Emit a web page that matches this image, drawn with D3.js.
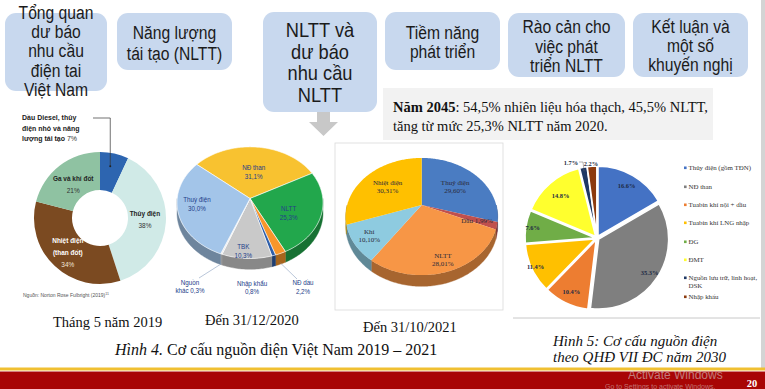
<!DOCTYPE html>
<html><head><meta charset="utf-8">
<script src="https://cdn.jsdelivr.net/npm/d3@7/dist/d3.min.js"></script>
<style>body{margin:0;background:#fff;overflow:hidden}</style>
</head><body>
<svg id="c" width="765" height="389"></svg>
<script>
// ---------------- DATA ----------------
const navTopics = [
  ["Tổng quan","dư báo","nhu cầu","điện tai","Việt Nam"],
  ["Năng lượng","tái tạo (NLTT)"],
  ["NLTT và","dư báo","nhu cầu","NLTT"],
  ["Tiềm năng","phát triển"],
  ["Rào cản cho","việc phát","triển NLTT"],
  ["Kết luận và","một số","khuyến nghị"]
];
const mix2019Labels = [["Dầu Diesel, thủy","điện nhỏ và năng","lượng tái tạo"],["Thủy điện"],["Nhiệt điện","(than đốt)"],["Ga và khí đốt"]];
const mix2019Values = [7, 38, 34, 21];
const mix2020Labels = [["NĐ than"],["NLTT"],["NĐ dầu"],["Nhập khẩu"],["TBK"],["Nguồn","khác"],["Thuỷ điện"]];
const mix2020Values = [31.1, 25.3, 2.2, 0.8, 10.3, 0.3, 30.0];
const mix2021Labels = ["Thuỷ điện","Dầu","NLTT","Khí","Nhiệt điện"];
const mix2021Values = [29.60, 1.99, 28.01, 10.10, 30.31];
const plan2030Labels = ["Thủy điện (gồm TĐN)","NĐ than","Tuabin khí nội + dầu","Tuabin khí LNG nhập","ĐG","ĐMT","Nguồn lưu trữ, linh hoạt,|DSK","Nhập khẩu"];
const plan2030Values = [16.6, 35.3, 10.4, 11.4, 7.6, 14.8, 1.7, 2.2];
const captions = ["Tháng 5 năm 2019","Đến 31/12/2020","Đến 31/10/2021"];
const note2045 = ["Năm 2045", ": 54,5% nhiên liệu hóa thạch, 45,5% NLTT,", "tăng từ mức 25,3% NLTT năm 2020."];

// ---------------- STYLES ----------------
const colors2019 = ["#2d65b0","#d0eae7","#7b4a21","#8fc2a2"];
const colors2020 = ["#f8c230","#22a74c","#f7962a","#2e5ea9","#c9c9c9","#e6e6e6","#a3c5e9"];
const colors2021 = ["#4a7cc2","#c0504d","#f79646","#8ecbe0","#ffc000"];
const colors2030 = ["#4472c4","#7f7f7f","#ed7d31","#ffc000","#70ad47","#ffff2e","#1f3864","#8c3a0e"];
const SANS = "'Liberation Sans', Arial, sans-serif";
const SERIF = "'Liberation Serif', 'Times New Roman', serif";

const svg = d3.select("#c");
const deg = Math.PI/180;

// ---------------- NAV BOXES ----------------
const navLayout = [
  {x:5,y:13,w:102,h:78,fs:18,b0:19,step:19.2},
  {x:117,y:13,w:115,h:57,fs:18,b0:39,step:21},
  {x:263,y:12,w:114,h:100,fs:21,b0:37,step:21.7},
  {x:385,y:12,w:115,h:58,fs:18,b0:39,step:18.5},
  {x:508,y:13,w:117,h:64,fs:18,b0:33,step:19.5},
  {x:633,y:13,w:115,h:64,fs:18,b0:33,step:19}
];
navTopics.forEach((lines,i)=>{
  const L = navLayout[i];
  svg.append("rect").attr("x",L.x).attr("y",L.y).attr("width",L.w).attr("height",L.h)
    .attr("rx",11).attr("fill","#c8d8ee");
  lines.forEach((t,j)=>{
    svg.append("text").attr("transform",`translate(${L.x+L.w/2},${L.b0+j*L.step}) scale(0.87,1)`)
      .attr("text-anchor","middle").attr("font-family",SANS).attr("font-size",L.fs)
      .attr("fill","#1b1b1b").text(t);
  });
});

// arrow below box 3
svg.append("path").attr("d","M317,112 L330,112 L330,122 L338,122 L323.5,136 L309,122 L317,122 Z").attr("fill","#c8c8c8");

// note box
svg.append("rect").attr("x",383).attr("y",88).attr("width",330).attr("height",52).attr("fill","#f2f2f2");
const nt = svg.append("text").attr("x",393).attr("y",112).attr("font-family",SERIF).attr("font-size",14.5).attr("fill","#111");
nt.append("tspan").attr("font-weight","bold").text(note2045[0]);
nt.append("tspan").text(note2045[1]);
svg.append("text").attr("x",393).attr("y",131).attr("font-family",SERIF).attr("font-size",14.5).attr("fill","#111").text(note2045[2]);

// right edge grey bar
svg.append("rect").attr("x",761).attr("y",0).attr("width",4).attr("height",368).attr("fill","#d4d4d4");

// ---------------- CHART 1: donut 2019 ----------------
{
  const cx=100, cy=218, r0=28, r1=66;
  const g = svg.append("g").attr("transform",`translate(${cx},${cy})`);
  const pie = d3.pie().sort(null).value(d=>d)(mix2019Values);
  const arc = d3.arc().innerRadius(r0).outerRadius(r1);
  const mid = d3.arc().innerRadius((r0+r1)/2).outerRadius((r0+r1)/2);
  g.selectAll("path").data(pie).join("path").attr("d",arc).attr("fill",(d,i)=>colors2019[i]);
  const fsz=7.2;
  function lbl(x,y,t,bold,col){
    g.append("text").attr("transform",`translate(${x},${y}) scale(0.9,1)`).attr("text-anchor","middle")
     .attr("font-family",SANS).attr("font-size",fsz).attr("font-weight",bold?"bold":"normal").attr("fill",col).text(t);
  }
  let c = mid.centroid(pie[1]);
  lbl(c[0]-2,c[1]-5,mix2019Labels[1][0],true,"#222");
  lbl(c[0]-2,c[1]+7,mix2019Values[1]+"%",false,"#333");
  c = mid.centroid(pie[2]);
  lbl(c[0],c[1]-9,mix2019Labels[2][0],true,"#fff");
  lbl(c[0],c[1]+3,mix2019Labels[2][1],true,"#fff");
  lbl(c[0],c[1]+15,mix2019Values[2]+"%",false,"#f2e6da");
  c = mid.centroid(pie[3]);
  lbl(c[0]+2,c[1]-0,mix2019Labels[3][0],true,"#222");
  lbl(c[0]+2,c[1]+12,mix2019Values[3]+"%",false,"#333");
  c = mid.centroid(pie[0]);
  const tl = svg.append("g").attr("font-family",SANS).attr("font-size",7.6).attr("font-weight","bold").attr("fill","#222");
  mix2019Labels[0].forEach((t,j)=>{
    const tx = tl.append("text").attr("transform",`translate(22,${120+j*10.5}) scale(0.92,1)`).text(t);
    if(j===2) tx.append("tspan").attr("font-weight","normal").attr("fill","#333").text(" "+mix2019Values[0]+"%");
  });
  svg.append("path").attr("d",`M93,118 L${cx+c[0]},118 L${cx+c[0]},${cy+c[1]-6}`).attr("fill","none").attr("stroke","#333").attr("stroke-width",0.7);
  svg.append("circle").attr("cx",cx+c[0]).attr("cy",cy+c[1]-6).attr("r",1).attr("fill","#222");
  const src = svg.append("text").attr("x",23).attr("y",297).attr("font-family",SANS).attr("font-size",5).attr("fill","#555").text("Nguồn: Norton Rose Fulbright (2019)");
  src.append("tspan").attr("font-size",3.5).attr("dy",-2).text("11");
}

// ---------------- 3D pie helper ----------------
function pie3d(opts){
  const {cx,cy,rx,ry,b,depth,values,colors,start,stroke} = opts;
  const proj = (t,r)=>{ const u=r*Math.sin(t), v=-r*Math.cos(t); const s=1/(1-b*v); return [cx+rx*u*s, cy+ry*v*s, s]; };
  const pie = d3.pie().sort(null).value(d=>d).startAngle(start).endAngle(start+2*Math.PI)(values);
  const line = d3.line();
  const g = svg.append("g");
  pie.forEach((d,i)=>{
    const t0=Math.max(d.startAngle,Math.PI/2), t1=Math.min(d.endAngle,1.5*Math.PI);
    if(t1<=t0) return;
    const n=Math.max(2,Math.ceil((t1-t0)/deg));
    const top=[],bot=[];
    for(let k=0;k<=n;k++){const t=t0+(t1-t0)*k/n; const p=proj(t,1); top.push([p[0],p[1]]); bot.push([p[0],p[1]+depth*p[2]]);}
    g.append("path").attr("d",line(top.concat(bot.reverse()))+"Z")
      .attr("fill",d3.color(colors[i]).darker(1.1)).attr("stroke",d3.color(colors[i]).darker(1.1)).attr("stroke-width",0.4);
  });
  pie.forEach((d,i)=>{
    const n=Math.max(2,Math.ceil((d.endAngle-d.startAngle)/deg));
    const pts=[[cx,cy]];
    for(let k=0;k<=n;k++){const t=d.startAngle+(d.endAngle-d.startAngle)*k/n; const p=proj(t,1); pts.push([p[0],p[1]]);}
    g.append("path").attr("d",line(pts)+"Z").attr("fill",colors[i]).attr("stroke",stroke).attr("stroke-width",0.6).attr("stroke-linejoin","round");
  });
  return {pie,proj};
}

// ---------------- CHART 2: 31/12/2020 ----------------
{
  const P = pie3d({cx:250,cy:198.5,rx:72.8,ry:55.5,b:0.075,depth:10,values:mix2020Values,colors:colors2020,start:-50*deg,stroke:"#fff"});
  const fmt = v=>d3.format(".1f")(v).replace(".",",")+"%";
  const lab = (x,y,lines)=>{
    const n=lines.length;
    lines.forEach((t,j)=>svg.append("text").attr("transform",`translate(${x},${y+(j-(n-1)/2)*8.5+2.5}) scale(0.92,1)`)
      .attr("text-anchor","middle").attr("font-family",SANS).attr("font-size",6.8).attr("fill","#24408a").text(t));
  };
  const mida = d=> (d.startAngle+d.endAngle)/2;
  const inside = {0:[0.5,0,0],1:[0.55,0,5],4:[0.85,-4,2],6:[0.7,-3,-4]};
  Object.entries(inside).forEach(([i,[r,dx,dy]])=>{
    const d=P.pie[i]; const p=P.proj(mida(d),r);
    lab(p[0]+dx,p[1]+dy,[mix2020Labels[i][0],fmt(mix2020Values[i])]);
  });
  const outside = {5:[-60,88],3:[2,89],2:[53,88.5]};
  Object.entries(outside).forEach(([i,[dx,dy]])=>{
    const x=250+dx, y=198.5+dy;
    const L = mix2020Labels[i];
    if(L.length===2) lab(x,y,[L[0],L[1]+" "+fmt(mix2020Values[i])]);
    else lab(x,y,[L[0],fmt(mix2020Values[i])]);
  });
  [[5,199,278],[2,297,279]].forEach(([i,lx,ly])=>{
    const p=P.proj(mida(P.pie[i]),1);
    svg.append("line").attr("x1",lx).attr("y1",ly).attr("x2",p[0]).attr("y2",p[1]+10*p[2]-1).attr("stroke","#8aa0c0").attr("stroke-width",0.6);
  });
}

// ---------------- CHART 3: 31/10/2021 ----------------
{
  svg.append("rect").attr("x",335).attr("y",143).attr("width",168).attr("height",167).attr("fill","#fff").attr("stroke","#dadada").attr("stroke-width",0.8);
  const P = pie3d({cx:421.7,cy:205,rx:74.5,ry:56.3,b:0.197,depth:9,values:mix2021Values,colors:colors2021,start:0,stroke:"none"});
  const fmt = v=>d3.format(".2f")(v).replace(".",",")+"%";
  const mida = d=> (d.startAngle+d.endAngle)/2;
  const pos = [[0.6,0,0],[0.75,0,0],[0.8,2,3],[0.8,0,0],[0.6,0,0]];
  P.pie.forEach((d,i)=>{
    const [r,dx,dy]=pos[i]; const p=P.proj(mida(d),r);
    const lines = i===1 ? [mix2021Labels[i]+" "+fmt(mix2021Values[i])] : [mix2021Labels[i], fmt(mix2021Values[i])];
    const n=lines.length;
    lines.forEach((t,j)=>svg.append("text").attr("x",p[0]+dx).attr("y",p[1]+dy+(j-(n-1)/2)*8+2.5)
      .attr("text-anchor","middle").attr("font-family",SERIF).attr("font-size",7).attr("fill","#2a2a3a").text(t));
  });
}

// ---------------- CHART 4: QHĐ VII ĐC 2030 ----------------
{
  svg.append("line").attr("x1",513).attr("x2",760).attr("y1",318).attr("y2",318).attr("stroke","#c8c8c8").attr("stroke-width",1);
  const cx=597, cy=238, r=70;
  const g = svg.append("g").attr("transform",`translate(${cx},${cy})`);
  const pie = d3.pie().sort(null).value(d=>d)(plan2030Values);
  const arc = d3.arc().innerRadius(0).outerRadius(r);
  const mida = d=> (d.startAngle+d.endAngle)/2;
  g.selectAll("path").data(pie).join("path").attr("d",arc)
    .attr("transform",d=>`translate(${2*Math.sin(mida(d))},${-2*Math.cos(mida(d))})`)
    .attr("fill",(d,i)=>colors2030[i]).attr("stroke","#fff").attr("stroke-width",1.6).attr("stroke-linejoin","round");
  const rf = [0.85,0.9,0.85,0.97,0.93,0.8];
  pie.slice(0,6).forEach((d,i)=>{
    const a=mida(d), rr=r*rf[i];
    g.append("text").attr("x",rr*Math.sin(a)).attr("y",-rr*Math.cos(a)+2)
      .attr("text-anchor","middle").attr("font-family",SERIF).attr("font-size",6.4).attr("font-weight","bold")
      .attr("fill","#1e2a44").text(d3.format(".1f")(plan2030Values[i])+"%");
  });
  const a6=mida(pie[6]);
  svg.append("text").attr("x",571).attr("y",165).attr("text-anchor","middle").attr("font-family",SERIF).attr("font-size",6.4).attr("font-weight","bold").attr("fill","#1e2a44").text(d3.format(".1f")(plan2030Values[6])+"%");
  svg.append("path").attr("d",`M579,162 L583,162 L${cx+(r-2)*Math.sin(a6)},${cy-(r-2)*Math.cos(a6)}`).attr("fill","none").attr("stroke","#666").attr("stroke-width",0.5);
  svg.append("text").attr("x",591).attr("y",166).attr("text-anchor","middle").attr("font-family",SERIF).attr("font-size",6.4).attr("font-weight","bold").attr("fill","#1e2a44").text(d3.format(".1f")(plan2030Values[7])+"%");
  const rows=[168,187,205,223,242,260,278,297];
  plan2030Labels.forEach((t,i)=>{
    svg.append("rect").attr("x",684).attr("y",rows[i]-1.5).attr("width",2.6).attr("height",2.6).attr("fill",colors2030[i]);
    t.split("|").forEach((s,j)=>svg.append("text").attr("x",688.5).attr("y",rows[i]+2.2+j*7.5).attr("font-family",SERIF).attr("font-size",6.9).attr("fill","#333").text(s));
  });
}

// ---------------- CAPTIONS ----------------
const capPos=[[53,327],[205,325],[363,332]];
captions.forEach((t,i)=>svg.append("text").attr("x",capPos[i][0]).attr("y",capPos[i][1]).attr("font-family",SERIF).attr("font-size",14.5).attr("fill","#111").text(t));
const h4 = svg.append("text").attr("x",115).attr("y",355).attr("font-family",SERIF).attr("font-size",16).attr("fill","#111");
h4.append("tspan").attr("font-style","italic").text("Hình 4.");
h4.append("tspan").text(" Cơ cấu nguồn điện Việt Nam 2019 – 2021");
["Hình 5: Cơ cấu nguồn điện","theo QHĐ VII ĐC năm 2030"].forEach((t,i)=>svg.append("text").attr("x",553).attr("y",346+i*16)
  .attr("font-family",SERIF).attr("font-style","italic").attr("font-size",15).attr("fill","#111").text(t));

// ---------------- FOOTER ----------------
svg.append("rect").attr("x",0).attr("y",367.5).attr("width",765).attr("height",3).attr("fill","#f0c032");
svg.append("rect").attr("x",0).attr("y",371.5).attr("width",765).attr("height",18).attr("fill","#a80505");
svg.append("text").attr("x",628).attr("y",378.5).attr("font-family",SANS).attr("font-size",12).attr("fill","#d8d8d8").attr("opacity",0.55).text("Activate Windows");
svg.append("text").attr("x",605).attr("y",389).attr("font-family",SANS).attr("font-size",7).attr("fill","#d8d8d8").attr("opacity",0.5).text("Go to Settings to activate Windows.");
svg.append("text").attr("x",752).attr("y",387).attr("text-anchor","middle").attr("font-family",SERIF).attr("font-size",10.5).attr("font-weight","bold").attr("fill","#fff").text("20");
</script>
</body></html>
